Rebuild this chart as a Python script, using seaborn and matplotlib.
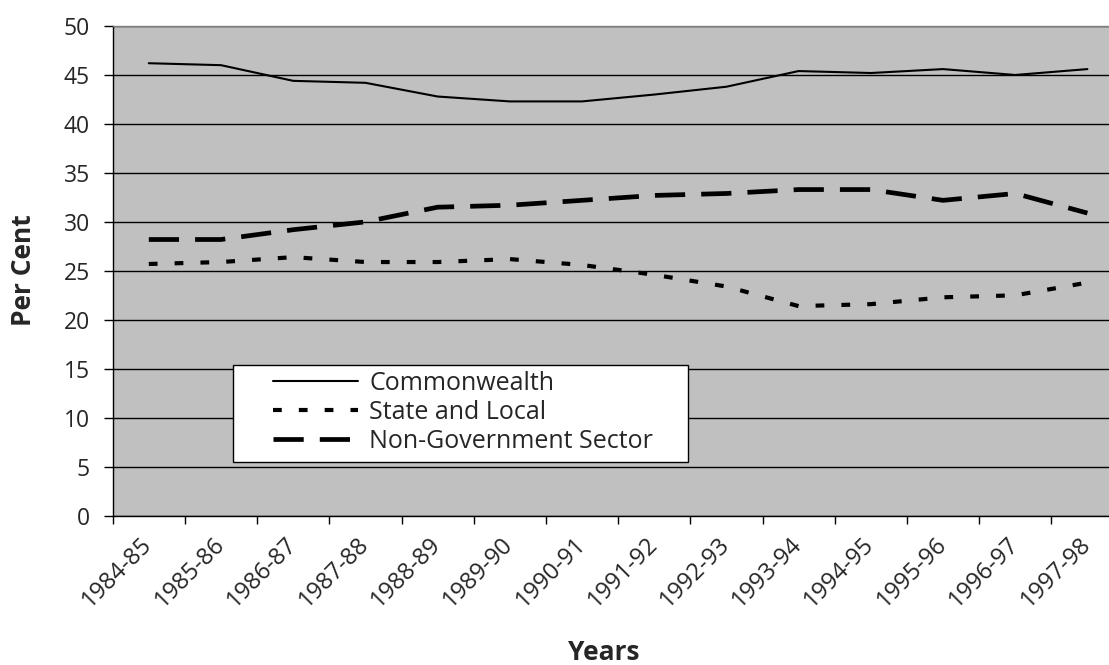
import numpy as np
import pandas as pd
import matplotlib
matplotlib.use("Agg")
import matplotlib.pyplot as plt
from matplotlib.patches import Rectangle
import seaborn as sns

# Share of funding by sector, per financial year (per cent)
years = ["1984-85", "1985-86", "1986-87", "1987-88", "1988-89", "1989-90", "1990-91",
         "1991-92", "1992-93", "1993-94", "1994-95", "1995-96", "1996-97", "1997-98"]
commonwealth = [46.2, 46.0, 44.4, 44.2, 42.8, 42.3, 42.3, 43.0, 43.8, 45.4, 45.2, 45.6, 45.0, 45.6]
state_local = [25.7, 25.9, 26.4, 25.9, 25.9, 26.2, 25.6, 24.6, 23.4, 21.4, 21.6, 22.3, 22.5, 23.8]
non_government = [28.2, 28.2, 29.2, 30.0, 31.5, 31.7, 32.2, 32.7, 32.9, 33.3, 33.3, 32.2, 32.9, 30.9]
series_names = ["Commonwealth", "State and Local", "Non-Government Sector"]
y_ticks = list(range(0, 55, 5))

sns.set_theme(style="ticks")
plt.rcParams["font.family"] = ["Open Sans", "DejaVu Sans"]

rows = []
for name, vals in zip(series_names, [commonwealth, state_local, non_government]):
    for i, (yr, v) in enumerate(zip(years, vals)):
        rows.append({"pos": i, "year": yr, "series": name, "pct": v})
df = pd.DataFrame(rows)

W, H = 1109, 665
fig = plt.figure(figsize=(W / 100, H / 100), dpi=100)
fig.patch.set_facecolor("white")

# plot area in pixels: left 112.7, top 26, bottom 515.7, 14 slots of ~72.2 px
left, top, bottom = 112.7, 26.0, 515.7
right = left + 14 * 72.2
ax = fig.add_axes([left / W, 1 - bottom / H, (right - left) / W, (bottom - top) / H])
ax.set_facecolor("#C0C0C0")

sns.lineplot(
    data=df, x="pos", y="pct",
    hue="series", style="series", size="series",
    hue_order=series_names, style_order=series_names, size_order=series_names,
    palette={n: "black" for n in series_names},
    dashes={"Commonwealth": "", "State and Local": (2.1, 4.1),
            "Non-Government Sector": (6.4, 3.4)},
    sizes={"Commonwealth": 1.5, "State and Local": 3.0, "Non-Government Sector": 3.4},
    ax=ax, zorder=5,
)

old = ax.get_legend()
handles = list(old.legend_handles)
labels = [t.get_text() for t in old.texts]
old.remove()

ax.set_xlim(-0.5, 13.5)
ax.set_ylim(0, 50)
ax.set_yticks(y_ticks)
ax.set_xticks(np.arange(-0.5, 13.6, 1.0))
ax.set_xticklabels([])
ax.set_xticks(np.arange(len(years)), minor=True)
ax.set_xticklabels(years, minor=True, rotation=45, ha="right", va="center",
                   rotation_mode="anchor", fontsize=17)
ax.tick_params(axis="x", which="major", length=6, width=1, color="black", direction="out")
ax.tick_params(axis="x", which="minor", length=0, pad=18)
ax.tick_params(axis="y", length=6.3, width=1, color="black", direction="out",
               labelsize=16.5, pad=10)

ax.set_axisbelow(True)
ax.yaxis.grid(True, color="black", linewidth=1)
ax.xaxis.grid(False)
for s in ["left", "bottom"]:
    ax.spines[s].set_color("black")
    ax.spines[s].set_linewidth(1)
ax.spines["top"].set_visible(True)
ax.spines["top"].set_color("#808080")
ax.spines["top"].set_linewidth(1)
ax.spines["right"].set_visible(False)
ax.set_xlabel("")
ax.set_ylabel("")

# legend panel
box = Rectangle((232.7 / W, 1 - 461.7 / H), (688 - 232.7) / W, (461.7 - 364.7) / H,
                transform=fig.transFigure, facecolor="white", edgecolor="black",
                linewidth=1, zorder=6)
ax.add_artist(box)
box.set_clip_on(False)
fs = 18
leg = ax.legend(handles, labels, loc="upper left",
                bbox_to_anchor=(273 / W, 1 - 371 / H), bbox_transform=fig.transFigure,
                frameon=False, fontsize=fs, handlelength=3.4, handletextpad=0.45,
                labelspacing=0.16, borderpad=0, borderaxespad=0)
leg.set_zorder(7)

fig.text(24 / W, 1 - 270 / H, "Per Cent", rotation=90, ha="center", va="center",
         fontsize=19, fontweight="bold")
fig.text(604 / W, 1 - 660 / H, "Years", ha="center", va="baseline",
         fontsize=19, fontweight="bold")

fig.savefig("out.png", dpi=100)
